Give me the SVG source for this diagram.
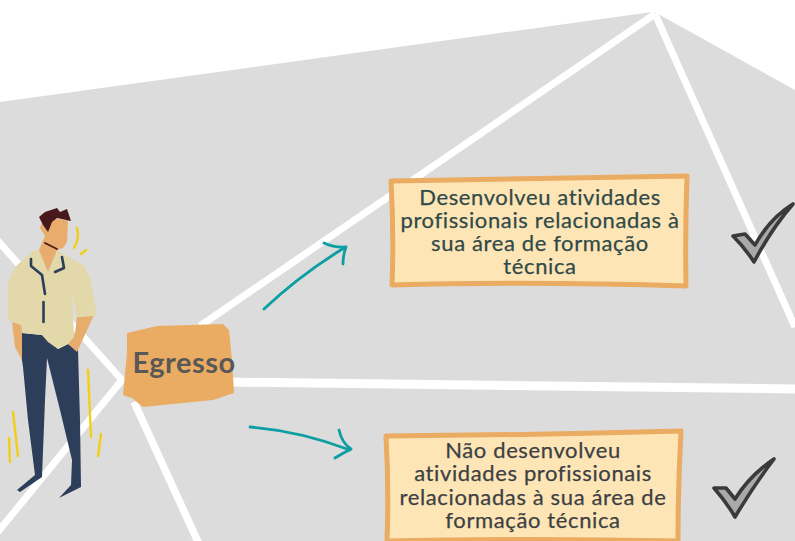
<svg xmlns="http://www.w3.org/2000/svg" width="795" height="541" viewBox="0 0 795 541">
  <style>
    .facet { stroke: #fff; fill: none; stroke-linecap: butt; stroke-linejoin: miter; }
    .card { fill: #fee5b5; stroke: #eaab62; stroke-width: 5; stroke-linejoin: round; }
    .label { font-family: "Lato", "Liberation Sans", sans-serif; font-size: 22px; text-anchor: middle; letter-spacing: 0.62px; stroke-width: 0.25px; }
    .arrow { fill: none; stroke: #0b9ea3; stroke-linecap: round; stroke-linejoin: round; stroke-width: 2.8; }
    .tick { fill: #a9a9a9; stroke: #3a3a3a; stroke-width: 3.6; stroke-linejoin: round; }
    .spark { fill: none; stroke: #f2cf14; stroke-width: 2.4; stroke-linecap: round; }
    .pipe { fill: none; stroke: #2c3e5a; stroke-width: 2.6; stroke-linecap: round; stroke-linejoin: round; }
  </style>

  <rect width="795" height="541" fill="#fff"/>
  <polygon points="0,102 652,12 660,15 795,90 795,541 0,541" fill="#dcdcdc"/>

  <!-- facet lines across the backdrop -->
  <g id="facets">
    <path class="facet" stroke-width="7" d="M655,14 L200,326"/>
    <path class="facet" stroke-width="7" d="M655,14 L795,327"/>
    <path class="facet" stroke-width="9" d="M225,382 L795,389"/>
    <path class="facet" stroke-width="7" d="M-3,240 L122,380 L-3,533"/>
    <path class="facet" stroke-width="7.500" d="M134,402 L199,544"/>
  </g>

  <g id="person">
    <!-- trousers and shoes -->
    <path fill="#2c3e5a" d="M22,333 L42,335 L58,349 L68,344 L78,350 L80,420 L81,487 L59,498 L71,485 L72,460 L60,410 L47,358 L45,400 L42,477 L20,492 L17,490 L35,475 L28,420 L23,367 L20,347 Z"/>
    <!-- arms -->
    <path fill="#e8ac6c" d="M12,322 L22,325 L22,360 L15,347 Z"/>
    <path fill="#e8ac6c" d="M77,317 L94,315 L88,328 L77,352 L68,344 L75,333 Z"/>
    <!-- shirt -->
    <path fill="#e3d8a9" d="M33,251 L39,250 L48,272 L57,250 L84,266 L90,277 L97,316 L77,317 L72,295 L74,337 L68,344 L58,349 L48,342 L42,335 L22,333 L21,325 L8,320 L8,283 L15,267 Z"/>
    <!-- neck and face -->
    <path fill="#e8ac6c" d="M40,228 L44,218 L68,220 L67,242 L63,248 L57,250 L48,272 L39,250 L45,236 Z"/>
    <path fill="none" stroke="#47191c" stroke-width="1.8" stroke-linecap="round" d="M45,243 L57,249"/>
    <!-- hair -->
    <path fill="#47191c" d="M39,217 L45,212 L57,208 L60,212 L67,209 L71,221 L57,218 L52,222 L48,232 L43,225 Z"/>
    <!-- collar and placket -->
    <path class="pipe" d="M31,259 L31,266 L42,275 L45,294"/>
    <path class="pipe" d="M43.500,302 L43.500,322"/>
    <path class="pipe" d="M62,257 L64,268 L55,272"/>
    <!-- motion marks -->
    <path class="spark" d="M77,228 Q80,238 74,248"/>
    <path class="spark" d="M81,254 L86,250"/>
    <path class="spark" d="M88,370 L91,437"/>
    <path class="spark" d="M101,434 L98,456"/>
    <path class="spark" d="M13,412 L18,456"/>
    <path class="spark" d="M9,438 L10,462"/>
  </g>

  <g id="egresso">
    <path fill="#eaab62" d="M127,333 L157,326 L223,324 L229,330 L232,360 L234,393 L213,400 L143,407 L132,398 L123,395 L127,353 Z"/>
    <text x="184" y="373" font-family="Lato, 'Liberation Sans', sans-serif" font-size="29" font-weight="700" letter-spacing="0.5" fill="#585858" text-anchor="middle">Egresso</text>
  </g>

  <g id="connectors">
    <path class="arrow" d="M264,309 Q300,275 344,248 M324,243 Q335,248 346,247 Q343,255 343,264"/>
    <path class="arrow" d="M250,427 Q300,431 350,450 M339,430 Q342,443 351,449 Q343,453 335,458"/>
  </g>

  <g id="card-yes">
    <path class="card" d="M391,181 Q540,178 687,176 Q685,230 686,286 Q530,281 392,285 Q394,235 391,181 Z"/>
    <g class="label" fill="#2f4a48" stroke="#2f4a48">
      <text x="540" y="205">Desenvolveu atividades</text>
      <text x="540" y="228">profissionais relacionadas à</text>
      <text x="540" y="251">sua área de formação</text>
      <text x="540" y="274">técnica</text>
    </g>
  </g>

  <g id="card-no">
    <path class="card" d="M386,436 Q530,435 681,431 Q678,485 678,541 Q530,538 387,541 Q389,490 386,436 Z"/>
    <g class="label" fill="#3c4044" stroke="#3c4044">
      <text x="533" y="458">Não desenvolveu</text>
      <text x="533" y="481">atividades profissionais</text>
      <text x="533" y="505">relacionadas à sua área de</text>
      <text x="533" y="528">formação técnica</text>
    </g>
  </g>

  <g id="check-yes">
    <path class="tick" d="M733,236 L745,234 L755,245 Q770,218 793,204 Q772,228 754,262 Q745,248 733,236 Z"/>
  </g>
  <g id="check-no">
    <path class="tick" d="M714,488 L726,488 L735,499 Q750,475 774,459 Q754,485 735,517 Q727,503 714,488 Z"/>
  </g>
</svg>
